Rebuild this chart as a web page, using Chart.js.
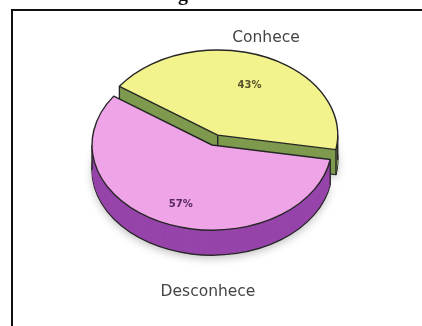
<!DOCTYPE html>
<html>
<head>
<meta charset="utf-8">
<script src="https://cdn.jsdelivr.net/npm/chart.js@4.4.1/dist/chart.umd.min.js"></script>
<style>
  html, body { margin: 0; padding: 0; background: #fff; }
  body { width: 422px; height: 326px; position: relative; overflow: hidden; }
  .frame { position: absolute; left: 11px; top: 9px; width: 500px; height: 400px; border: 2px solid #111; }
  #pie { position: absolute; left: 0; top: 0; }
</style>
</head>
<body>
<div class="frame"></div>
<canvas id="pie" width="422" height="326"></canvas>
<script>
// Pie data
const labels = ['Conhece', 'Desconhece'];
const values = [43, 57];
const topColors = ['#f3f38e', '#eea4e6'];
const sideColors = ['#7e9a4e', '#9644aa'];
const valueColors = ['#55532a', '#57295f'];

// Draws the pie as a tilted disc with a rim, instead of the flat default
const pie3d = {
  id: 'pie3d',
  beforeDatasetsDraw(chart, args, opts) {
    const ctx = chart.ctx;
    const arcs = chart.getDatasetMeta(0).data;
    arcs.forEach((arc, i) => {
      const mid = (arc.startAngle + arc.endAngle) / 2;
      const lift = opts.explode[i] || 0;
      const cx = arc.x + Math.cos(mid) * lift;
      const cy = arc.y + Math.sin(mid) * lift * opts.tilt;
      const rx = arc.outerRadius, ry = rx * opts.tilt;
      const wedge = (dy) => {
        ctx.beginPath();
        ctx.moveTo(cx, cy + dy);
        ctx.ellipse(cx, cy + dy, rx, ry, 0, arc.startAngle, arc.endAngle);
        ctx.closePath();
      };
      ctx.save();
      ctx.lineWidth = opts.lineWidth;
      ctx.strokeStyle = opts.lineColor;
      ctx.lineJoin = 'round';

      // bottom of the rim, with a soft shadow
      ctx.save();
      ctx.shadowColor = 'rgba(0,0,0,0.25)';
      ctx.shadowBlur = 8;
      ctx.shadowOffsetY = 3;
      wedge(opts.depth);
      ctx.fillStyle = sideColors[i];
      ctx.fill();
      ctx.restore();
      ctx.stroke();

      ctx.fillStyle = sideColors[i];
      for (let d = opts.depth - 1; d > 0; d--) {
        wedge(d);
        ctx.fill();
      }

      // vertical edges of the rim
      ctx.beginPath();
      ctx.moveTo(cx, cy);
      ctx.lineTo(cx, cy + opts.depth);
      [arc.startAngle, arc.endAngle, -Math.PI, 0, Math.PI, 2 * Math.PI].forEach(a => {
        if (a < arc.startAngle - 1e-6 || a > arc.endAngle + 1e-6) return;
        const x = cx + Math.cos(a) * rx;
        const y = cy + Math.sin(a) * ry;
        ctx.moveTo(x, y);
        ctx.lineTo(x, y + opts.depth);
      });
      ctx.stroke();

      // top face
      wedge(0);
      ctx.fillStyle = topColors[i];
      ctx.fill();
      ctx.stroke();
      ctx.restore();
    });
    return false;
  },
  afterDraw(chart, args, opts) {
    const ctx = chart.ctx;
    const arcs = chart.getDatasetMeta(0).data;
    const total = values.reduce((a, b) => a + b, 0);
    ctx.save();
    ctx.textAlign = 'center';
    ctx.textBaseline = 'middle';
    arcs.forEach((arc, i) => {
      const mid = (arc.startAngle + arc.endAngle) / 2;
      const lift = opts.explode[i] || 0;
      const d = lift + arc.outerRadius * opts.valueRadius[i];
      const x = arc.x + Math.cos(mid) * d;
      const y = arc.y + Math.sin(mid) * d * opts.tilt;
      ctx.font = 'bold 10px "DejaVu Sans"';
      ctx.fillStyle = valueColors[i];
      ctx.fillText(Math.round(values[i] / total * 100) + '%', x + 3, y);

      ctx.font = '15.5px "DejaVu Sans"';
      ctx.fillStyle = '#444';
      ctx.fillText(labels[i], opts.namePos[i][0], opts.namePos[i][1]);
    });
    // descender of the heading above the frame
    ctx.font = 'bold 20px "Liberation Serif"';
    ctx.fillStyle = '#111';
    ctx.textAlign = 'left';
    ctx.textBaseline = 'alphabetic';
    ctx.fillText('g', 178, 0);
    ctx.restore();
  }
};

new Chart(document.getElementById('pie'), {
  type: 'pie',
  data: {
    labels: labels,
    datasets: [{
      data: values,
      backgroundColor: topColors
    }]
  },
  options: {
    responsive: false,
    animation: false,
    rotation: -55,
    radius: 120,
    layout: { padding: { left: 2, right: 0, top: 0, bottom: 36 } },
    plugins: {
      legend: { display: false },
      tooltip: { enabled: false },
      pie3d: {
        tilt: 0.71,
        depth: 25,
        explode: [15, 0],
        lineWidth: 1.4,
        lineColor: '#262626',
        valueRadius: [0.63, 0.75],
        namePos: [[266, 38], [208, 292]]
      }
    }
  },
  plugins: [pie3d]
});
</script>
</body>
</html>
